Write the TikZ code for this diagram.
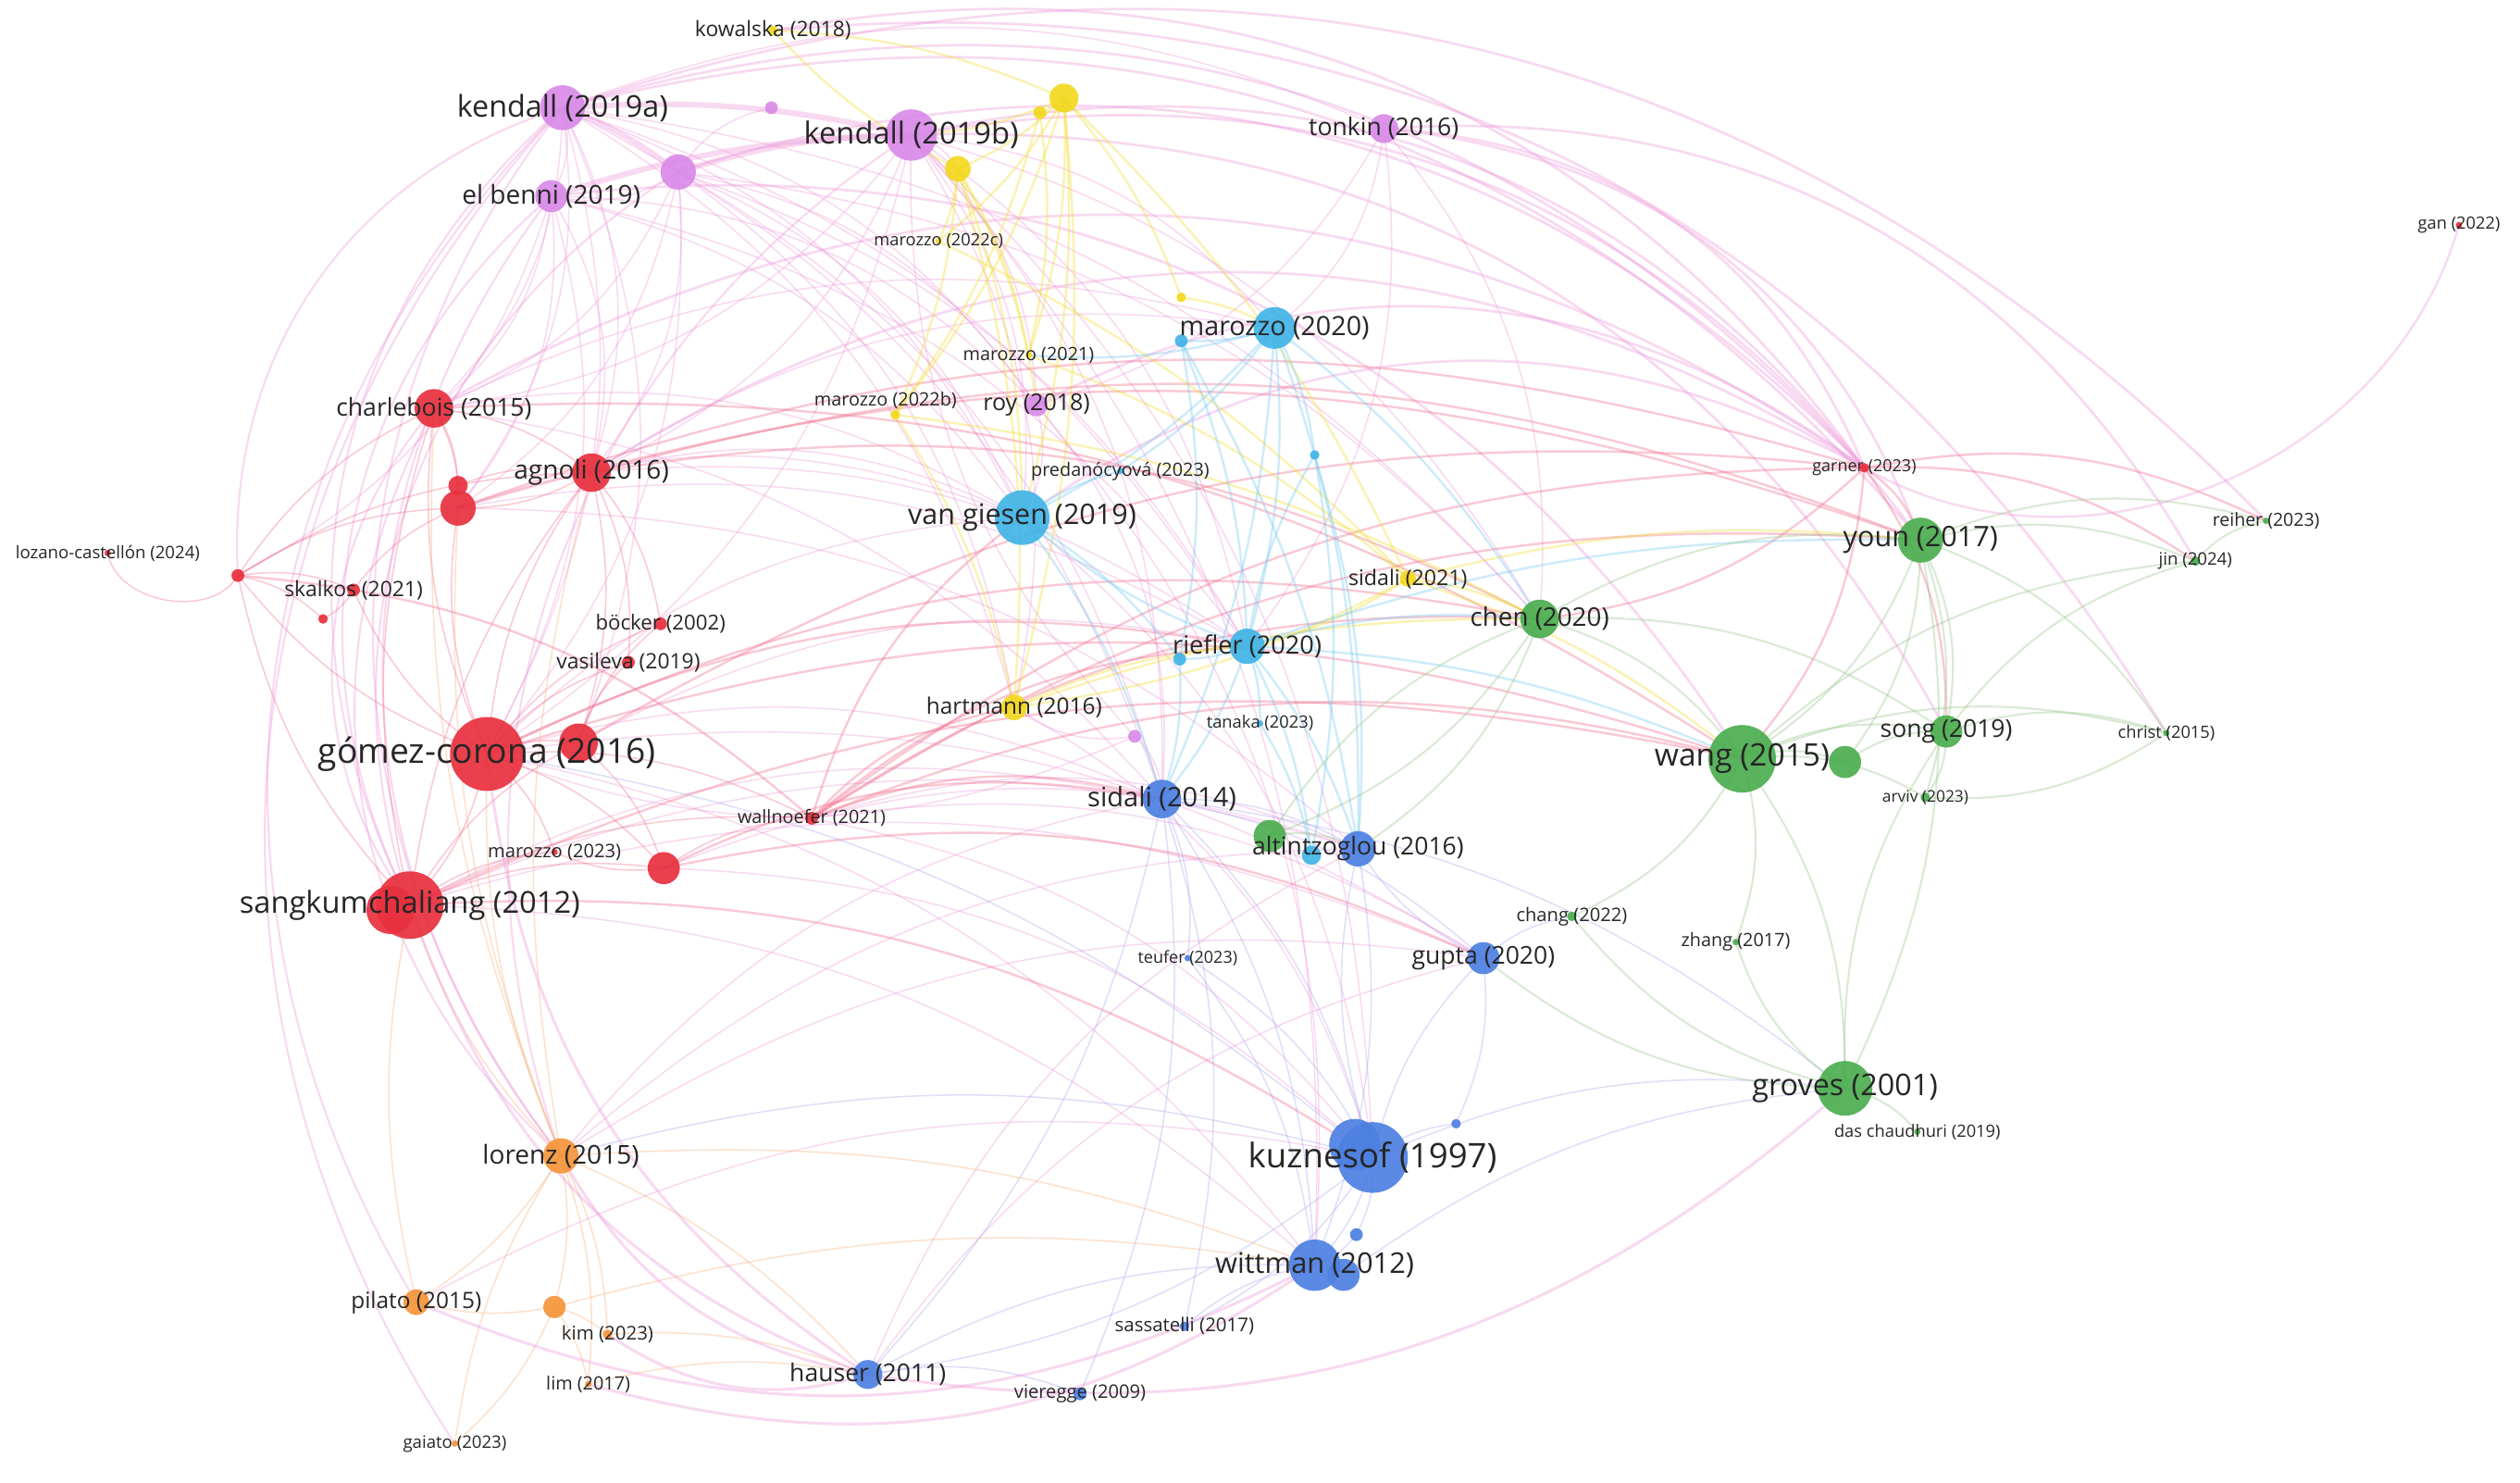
\documentclass[tikz,border=0pt]{standalone}
\usepackage{fontspec}
\setmainfont{Open Sans}
\usetikzlibrary{backgrounds}

\definecolor{vio}{HTML}{D98AE8}
\definecolor{yel}{HTML}{F3D81E}
\definecolor{lbl}{HTML}{41B4E6}
\definecolor{blu}{HTML}{4D80E2}
\definecolor{grn}{HTML}{4BAE4F}
\definecolor{rednd}{HTML}{E8303E}
\definecolor{org}{HTML}{F4953A}
\definecolor{pkE}{HTML}{EC9BDA}
\definecolor{redE}{HTML}{F0708E}
\definecolor{yelE}{HTML}{F2DE3A}
\definecolor{lbE}{HTML}{7CCBF0}
\definecolor{bluE}{HTML}{A9A8EE}
\definecolor{grnE}{HTML}{9CC890}
\definecolor{orgE}{HTML}{F5B07A}

\tikzset{
  dot/.style={circle, inner sep=0pt, fill=#1, opacity=.92},
  lab/.style={text=black!85, inner sep=0pt},
  ed/.style={draw=#1, opacity=.38, line width=.5pt},
}
\newcommand{\nd}[5]{\node[dot=#4, minimum size={#5*0.4mm}] (#1) at (#2,#3) {};}
\newcommand{\lb}[3]{\node[lab, font=\fontsize{#2}{#2}\selectfont] (#1-t) at (#1) {#3};}

\begin{document}
\begin{tikzpicture}[x=0.2mm, y=-0.2mm]
\useasboundingbox (0,0) rectangle (1568,922);

% violet cluster
\nd{kenA}{350}{67}{vio}{14}
\nd{kenB}{567}{84}{vio}{16}
\nd{vio1}{422}{107}{vio}{11}
\nd{elb}{343}{122}{vio}{10}
\nd{vio2}{480}{67}{vio}{4}
\nd{ton}{861}{80}{vio}{9}
\nd{roy}{645}{252}{vio}{7}
\nd{vio3}{706}{458}{vio}{4}
% yellow cluster
\nd{yel1}{662}{61}{yel}{9}
\nd{yel2}{647}{70}{yel}{4}
\nd{yel3}{596}{105}{yel}{8}
\nd{yel4}{735}{185}{yel}{3}
\nd{m22c}{584}{150}{yel}{2}
\nd{m21}{640}{221}{yel}{2}
\nd{m22b}{557}{258}{yel}{3}
\nd{hart}{631}{440}{yel}{8}
\nd{sid21}{876}{360}{yel}{5}
\nd{kow}{481}{19}{yel}{3}
% light blue cluster
\nd{mar20}{793}{204}{lbl}{13}
\nd{vgi}{636}{322}{lbl}{17}
\nd{rie}{776}{402}{lbl}{11}
\nd{lb1}{735}{212}{lbl}{4}
\nd{lb2}{734}{410}{lbl}{4}
\nd{lb3}{818}{283}{lbl}{3}
\nd{lb4}{816}{532}{lbl}{6}
\nd{pred}{697}{293}{lbl}{2}
\nd{tan}{784}{450}{lbl}{2}
% blue cluster
\nd{sid14}{723}{497}{blu}{12}
\nd{alt}{845}{528}{blu}{11}
\nd{gup}{923}{596}{blu}{10}
\nd{kuz2}{843}{712}{blu}{16}
\nd{kuz}{854}{720}{blu}{22}
\nd{wit}{818}{787}{blu}{16}
\nd{wit2}{836}{793}{blu}{10}
\nd{bl1}{844}{768}{blu}{4}
\nd{bl2}{906}{699}{blu}{3}
\nd{hau}{540}{855}{blu}{9}
\nd{vie}{672}{867}{blu}{4}
\nd{sas}{737}{825}{blu}{3}
\nd{teu}{739}{596}{blu}{2}
% green cluster
\nd{chen}{958}{385}{grn}{12}
\nd{youn}{1195}{336}{grn}{14}
\nd{wang}{1084}{472}{grn}{21}
\nd{gr1}{1148}{474}{grn}{10}
\nd{song}{1211}{455}{grn}{10}
\nd{grov}{1148}{677}{grn}{17}
\nd{gr2}{790}{520}{grn}{10}
\nd{jin}{1366}{349}{grn}{3}
\nd{rei}{1410}{324}{grn}{2}
\nd{chr}{1348}{456}{grn}{2}
\nd{arv}{1198}{496}{grn}{3}
\nd{chg}{978}{570}{grn}{3}
\nd{zha}{1080}{586}{grn}{2}
\nd{das}{1193}{704}{grn}{2}
% red cluster
\nd{gom}{303}{469}{rednd}{23}
\nd{sang2}{243}{566}{rednd}{15}
\nd{sang}{255}{563}{rednd}{21}
\nd{agn}{368}{294}{rednd}{12}
\nd{cha}{270}{254}{rednd}{12}
\nd{red2}{285}{302}{rednd}{6}
\nd{red1}{285}{316}{rednd}{11}
\nd{red3}{360}{462}{rednd}{12}
\nd{red4}{413}{540}{rednd}{10}
\nd{loz}{67}{344}{rednd}{2}
\nd{hub}{148}{358}{rednd}{4}
\nd{ska}{220}{367}{rednd}{4}
\nd{red5}{201}{385}{rednd}{3}
\nd{boc}{411}{388}{rednd}{4}
\nd{vas}{391}{412}{rednd}{4}
\nd{m23}{345}{530}{rednd}{2}
\nd{wal}{505}{509}{rednd}{4}
\nd{gar}{1160}{291}{rednd}{3}
\nd{gan}{1530}{140}{rednd}{2}
% orange cluster
\nd{lor}{349}{719}{org}{11}
\nd{pil}{259}{810}{org}{8}
\nd{or1}{345}{813}{org}{7}
\nd{kim}{378}{830}{org}{3}
\nd{lim}{366}{861}{org}{2}
\nd{gai}{283}{898}{org}{2}

% labels
\lb{kenA}{10.6}{kendall (2019a)}
\lb{kenB}{10.7}{kendall (2019b)}
\lb{elb}{9.2}{el benni (2019)}
\lb{ton}{8.7}{tonkin (2016)}
\lb{roy}{8.2}{roy (2018)}
\lb{kow}{7.5}{kowalska (2018)}
\lb{m22c}{6}{marozzo (2022c)}
\lb{m21}{6.5}{marozzo (2021)}
\node[lab, font=\fontsize{6.5}{6.5}\selectfont] (m22b-t) at (551,249) {marozzo (2022b)};
\lb{hart}{8}{hartmann (2016)}
\lb{sid21}{7.6}{sidali (2021)}
\lb{mar20}{9.4}{marozzo (2020)}
\lb{vgi}{10}{van giesen (2019)}
\lb{rie}{8.9}{riefler (2020)}
\lb{pred}{6.5}{predanócyová (2023)}
\lb{tan}{6}{tanaka (2023)}
\lb{sid14}{9.5}{sidali (2014)}
\lb{alt}{8.7}{altintzoglou (2016)}
\lb{gup}{8.7}{gupta (2020)}
\lb{kuz}{12}{kuznesof (1997)}
\lb{wit}{10.1}{wittman (2012)}
\lb{hau}{8.7}{hauser (2011)}
\lb{vie}{6.6}{vieregge (2009)}
\lb{sas}{6.7}{sassatelli (2017)}
\lb{teu}{5.9}{teufer (2023)}
\lb{chen}{9.1}{chen (2020)}
\lb{youn}{10}{youn (2017)}
\lb{wang}{11}{wang (2015)}
\lb{song}{8.7}{song (2019)}
\lb{grov}{10.6}{groves (2001)}
\lb{jin}{6.1}{jin (2024)}
\lb{rei}{6.4}{reiher (2023)}
\lb{chr}{6}{christ (2015)}
\lb{arv}{5.7}{arviv (2023)}
\lb{chg}{6.6}{chang (2022)}
\lb{zha}{6.5}{zhang (2017)}
\lb{das}{6}{das chaudhuri (2019)}
\lb{gom}{12.2}{gómez-corona (2016)}
\lb{sang}{10.7}{sangkumchaliang (2012)}
\lb{agn}{9.2}{agnoli (2016)}
\lb{cha}{8.7}{charlebois (2015)}
\lb{loz}{6.1}{lozano-castellón (2024)}
\lb{ska}{7.5}{skalkos (2021)}
\lb{boc}{7.3}{böcker (2002)}
\lb{vas}{7.5}{vasileva (2019)}
\lb{m23}{6.6}{marozzo (2023)}
\lb{wal}{6.5}{wallnoefer (2021)}
\lb{gar}{5.9}{garner (2023)}
\lb{gan}{6}{gan (2022)}
\lb{lor}{9.2}{lorenz (2015)}
\lb{pil}{8}{pilato (2015)}
\lb{kim}{6.7}{kim (2023)}
\lb{lim}{6.5}{lim (2017)}
\lb{gai}{6.1}{gaiato (2023)}

\begin{pgfonlayer}{background}
% pink links of the violet nodes
\foreach \a/\b in {kenA/elb, kenA/cha, kenA/agn, kenA/gom, kenA/red1, kenA/vgi, kenA/sid14,
  kenA/roy, kenA/red3, kenA/hart, kenA/ton, kenB/yel3, kenB/roy, kenB/vgi, kenB/rie, kenB/sid14,
  kenB/mar20, kenB/agn, kenB/cha, kenB/kuz, kenB/hart, kenB/chen, kenB/gom, vio1/elb, vio1/agn,
  vio1/cha, vio1/gom, vio1/roy, vio1/vgi, vio1/sid14, vio1/hart, vio1/red1, vio1/vio2, elb/cha,
  elb/agn, elb/red1, elb/gom, elb/hub, elb/roy, ton/mar20, ton/chen, ton/rie, ton/roy, vio3/sid14,
  vio3/hart, vio3/gom, vio3/kenB, roy/vgi, roy/sid14, roy/wit, vgi/kuz, hart/kuz, kenB/wit}
  \draw[ed=pkE] (\a.center) to[bend left=22] (\b.center);
\foreach \a/\b in {kenA/kenB, kenA/vio1, vio1/kenB, elb/kenB}
  \draw[ed=pkE, line width=2pt] (\a.center) to[bend left=8] (\b.center);
% pink links across the middle
\foreach \a/\b in {agn/vgi, agn/rie, cha/vgi, gom/vgi, gom/sid14, sang/sid14, sang/alt, red3/rie,
  red4/alt, red1/vgi, red1/rie, agn/mar20, cha/mar20, elb/vgi, elb/rie, kenA/rie, kenA/chen,
  vio1/rie, vio1/chen, lor/gup, lor/alt, sang/gup, gom/gup, pil/kuz, hau/gup, hau/alt, lor/sid14,
  sang/wit, gom/wit, red4/kuz, wal/kuz, wal/alt, wal/gup, cha/sid14, red1/alt}
  \draw[ed=pkE] (\a.center) to[bend left=20] (\b.center);
% long arcs over the top
\foreach \a/\b in {kenA/gar, vio1/gar, kenB/gar, kenB/youn, kenA/youn, elb/wang, roy/gar,
  vgi/gar, ton/gar, ton/jin, ton/youn, kow/gar, kenB/song, agn/gar, cha/gar, kenA/rei, kow/chr}
  \draw[ed=pkE, line width=.9pt] (\a.center) to[bend left=32] (\b.center);
% arcs round the left side
\foreach \a/\b in {kenA/sang, kenA/lor, elb/sang, cha/sang, kenA/pil, elb/lor, vio1/sang,
  kenA/hub, cha/lor, kenB/lor, kenA/gai}
  \draw[ed=pkE, line width=.7pt] (\a.center) to[bend right=38] (\b.center);
% red links
\foreach \a/\b in {gom/sang, gom/red3, gom/agn, gom/cha, gom/red1, gom/hub, gom/boc, gom/vas,
  gom/red4, gom/wal, gom/m23, gom/ska, sang/red3, sang/red4, sang/hub, sang/cha, sang/agn,
  sang/m23, sang/wal, hub/ska, hub/red5, hub/cha, hub/red1, hub/agn, cha/red1, cha/red2,
  cha/agn, agn/red1, agn/red3, agn/boc, agn/vas, red3/vas, red3/boc, red4/wal, red4/m23,
  ska/red5, ska/red1, red2/agn, red3/red4}
  \draw[ed=redE] (\a.center) to[bend left=15] (\b.center);
\draw[ed=redE] (hub.center) to[bend left=70] (loz.center);
\foreach \a/\b in {wal/gar, wal/youn, wal/chen, wal/wang, wal/rie, wal/sid14, wal/hart, wal/vgi,
  agn/youn, red1/gar, cha/wang, gom/wang, gom/chen, sang/wang, red3/gar, red4/gup, sang/kuz,
  gom/rie, agn/chen, red4/sid14, gar/youn, gar/wang, gar/chen, gar/song, gar/jin, gar/rei,
  hub/wal, red1/youn}
  \draw[ed=redE, line width=.8pt] (\a.center) to[bend left=18] (\b.center);
\draw[ed=pkE, line width=.8pt] (gar.center) to[bend right=52] (gan.center);
% yellow links
\foreach \a/\b in {yel1/yel3, yel1/yel2, yel1/kenB, yel1/m22c, yel1/m21, yel1/m22b, yel1/hart,
  yel1/sid21, yel1/yel4, yel3/m22c, yel3/m21, yel3/m22b, yel3/hart, yel3/roy, yel3/kow, yel2/m21,
  yel2/m22b, m22b/hart, m21/sid21, m22c/sid21, sid21/chen, sid21/rie, sid21/hart, sid21/youn,
  sid21/wang, hart/chen, hart/rie, yel4/mar20, m22b/chen, yel1/vgi, kow/yel1, yel3/vgi}
  \draw[ed=yelE, line width=.8pt] (\a.center) to[bend left=10] (\b.center);
% light blue links
\foreach \a/\b in {mar20/lb1, mar20/vgi, mar20/rie, mar20/lb3, mar20/m21, mar20/sid14,
  mar20/alt, mar20/pred, lb1/rie, lb1/lb2, rie/lb2, rie/vgi, rie/sid14, rie/alt, rie/tan,
  rie/lb4, rie/lb3, rie/chen, rie/wang, vgi/pred, vgi/sid14, vgi/lb2, lb3/alt, lb3/lb4,
  tan/lb4, lb2/sid14, lb1/alt, mar20/chen, rie/youn}
  \draw[ed=lbE, line width=.8pt] (\a.center) to[bend left=10] (\b.center);
% blue links
\foreach \a/\b in {sid14/alt, sid14/gup, sid14/kuz, sid14/wit, sid14/hau, sid14/teu, sid14/vie,
  sid14/sas, kuz/wit, kuz/gup, kuz/bl1, kuz/bl2, kuz/alt, kuz/sas, gup/bl2, gup/chg, gup/alt,
  hau/vie, hau/wit, kuz/hau, teu/kuz, alt/wit, sid14/grov, kuz/grov, sas/wit, teu/wit,
  gom/kuz, lor/kuz, wit2/grov, bl1/wit}
  \draw[ed=bluE] (\a.center) to[bend left=15] (\b.center);
% green links
\foreach \a/\b in {chen/youn, chen/wang, chen/gr2, chen/alt, chen/song, youn/wang, youn/song,
  youn/jin, youn/rei, youn/chr, youn/arv, youn/gr1, wang/song, wang/gr1, wang/arv, wang/grov,
  wang/chg, wang/zha, wang/chr, wang/jin, grov/das, grov/zha, grov/chg, grov/song, grov/gup,
  song/arv, song/chr, song/jin, gr1/song, gr2/alt, gr2/chen, jin/rei, chr/arv, youn/grov}
  \draw[ed=grnE, line width=.7pt] (\a.center) to[bend left=18] (\b.center);
% orange links
\foreach \a/\b in {lor/pil, lor/or1, lor/kim, lor/lim, lor/sang, lor/gom, lor/red1, lor/hau,
  or1/lim, or1/gai, or1/pil, or1/kim, pil/sang, kim/hau, lor/cha, lor/agn, lor/wit, or1/wit,
  lim/hau, gai/lor}
  \draw[ed=orgE] (\a.center) to[bend left=12] (\b.center);
% bottom arcs
\foreach \a/\b in {kim/hau, lor/hau, pil/wit, sang/hau, gom/hau, hau/grov, lim/wit}
  \draw[ed=pkE, line width=1pt] (\a.center) to[bend right=25] (\b.center);
\end{pgfonlayer}
\end{tikzpicture}
\end{document}
